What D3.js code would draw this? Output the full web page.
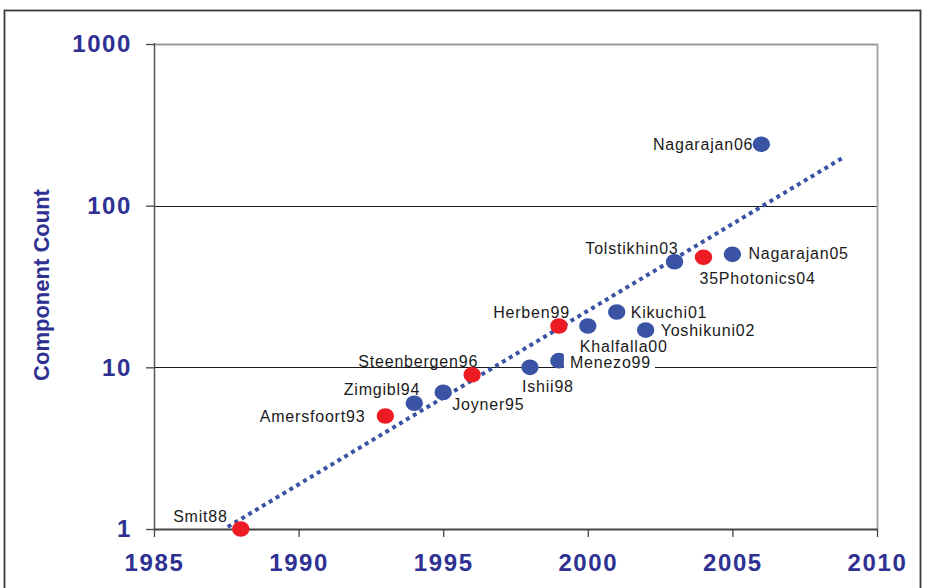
<!DOCTYPE html>
<html>
<head>
<meta charset="utf-8">
<script src="https://cdn.jsdelivr.net/npm/d3@7"></script>
<style>
  html, body { margin: 0; padding: 0; background: #fff; }
  svg { display: block; }
</style>
</head>
<body>
<svg id="chart" width="928" height="588"></svg>
<script>
// ---------------- DATA ----------------
const names  = ["Smit88","Amersfoort93","Zimgibl94","Joyner95","Steenbergen96","Ishii98","Menezo99","Herben99","Khalfalla00","Kikuchi01","Yoshikuni02","Tolstikhin03","35Photonics04","Nagarajan05","Nagarajan06"];
const years  = [1988, 1993, 1994, 1995, 1996, 1998, 1999, 1999, 2000, 2001, 2002, 2003, 2004, 2005, 2006];
const counts = [1, 5, 6, 7, 9, 10, 11, 18, 18, 22, 17, 45, 48, 50, 240];
const groups = ["red","red","blue","blue","red","blue","blue","red","blue","blue","blue","blue","red","blue","blue"];
const trendYears  = [1987.55, 2008.8];
const trendCounts = [1.03, 197];
const xTicks = [1985, 1990, 1995, 2000, 2005, 2010];
const yTicks = [1, 10, 100, 1000];
const yTitle = "Component Count";

// ---------------- LAYOUT / STYLE ----------------
const labelPlacement = {
  "Smit88":        {anchor: "end",   dx: -13, dy: -7},
  "Amersfoort93":  {anchor: "end",   dx: -20, dy: 6},
  "Zimgibl94":     {anchor: "end",   dx: 6,   dy: -8},
  "Joyner95":      {anchor: "start", dx: 9,   dy: 18},
  "Steenbergen96": {anchor: "end",   dx: 6,   dy: -8},
  "Ishii98":       {anchor: "start", dx: -8,  dy: 25},
  "Menezo99":      {anchor: "start", dx: 11,  dy: 7, bg: true},
  "Herben99":      {anchor: "end",   dx: 11,  dy: -8},
  "Khalfalla00":   {anchor: "start", dx: -8,  dy: 26},
  "Kikuchi01":     {anchor: "start", dx: 14,  dy: 6},
  "Yoshikuni02":   {anchor: "start", dx: 15,  dy: 6},
  "Tolstikhin03":  {anchor: "end",   dx: 4,   dy: -8},
  "35Photonics04": {anchor: "start", dx: -4,  dy: 27},
  "Nagarajan05":   {anchor: "start", dx: 16,  dy: 5},
  "Nagarajan06":   {anchor: "end",   dx: -8,  dy: 6}
};
const colors = {red: "#ED1C24", blue: "#3A53A4"};
const navy = "#2E3192";
const font = "'Liberation Sans', Arial, sans-serif";

const pLeft = 154, pRight = 877, pTop = 44, pBottom = 529;

const svg = d3.select("#chart");

// outer frame
svg.append("rect")
  .attr("x", 4.5).attr("y", 10.5).attr("width", 916).attr("height", 620)
  .attr("fill", "none").attr("stroke", "#3a3a3a").attr("stroke-width", 1.8);

const x = d3.scaleLinear().domain([1985, 2010]).range([pLeft, pRight]);
const y = d3.scaleLog().domain([1, 1000]).range([pBottom, pTop]);

// gridlines (10, 100)
svg.append("g").selectAll("line")
  .data([10, 100]).join("line")
  .attr("x1", pLeft).attr("x2", pRight)
  .attr("y1", d => Math.round(y(d)) + 0.5).attr("y2", d => Math.round(y(d)) + 0.5)
  .attr("stroke", "#1a1a1a").attr("stroke-width", 1);

// plot borders: top & right gray
svg.append("line").attr("x1", pLeft).attr("x2", pRight + 1).attr("y1", pTop + 0.5).attr("y2", pTop + 0.5)
  .attr("stroke", "#9a9a9a").attr("stroke-width", 2);
svg.append("line").attr("x1", pRight + 0.5).attr("x2", pRight + 0.5).attr("y1", pTop).attr("y2", pBottom)
  .attr("stroke", "#a8a8a8").attr("stroke-width", 2);

// y axis
const yAxis = d3.axisLeft(y).tickValues(yTicks).tickFormat(d3.format("d")).tickSize(8).tickPadding(14);
const gy = svg.append("g").attr("transform", `translate(${pLeft},0)`).call(yAxis);
gy.select(".domain").remove();
gy.selectAll(".tick line").attr("stroke", "#444").attr("stroke-width", 1.3);
gy.selectAll(".tick text")
  .attr("fill", navy).style("font-family", font).style("font-size", "24px")
  .style("font-weight", "bold").style("letter-spacing", "1.6px");
svg.append("line").attr("x1", pLeft + 0.5).attr("x2", pLeft + 0.5).attr("y1", pTop - 1).attr("y2", pBottom)
  .attr("stroke", "#555").attr("stroke-width", 1.5);

// x axis
const xAxis = d3.axisBottom(x).tickValues(xTicks).tickFormat(d3.format("d")).tickSize(8).tickPadding(17);
const gx = svg.append("g").attr("transform", `translate(0,${pBottom})`).call(xAxis);
gx.select(".domain").remove();
gx.selectAll(".tick line").attr("stroke", "#444").attr("stroke-width", 1.3);
gx.selectAll(".tick text")
  .attr("fill", navy).style("font-family", font).style("font-size", "24px")
  .style("font-weight", "bold").style("letter-spacing", "1.6px");
svg.append("line").attr("x1", pLeft).attr("x2", pRight + 1).attr("y1", pBottom + 0.5).attr("y2", pBottom + 0.5)
  .attr("stroke", "#444").attr("stroke-width", 2);

// y title
svg.append("text")
  .attr("transform", `translate(49,285) rotate(-90)`)
  .attr("text-anchor", "middle")
  .attr("fill", navy).style("font-family", font).style("font-size", "22px").style("font-weight", "bold")
  .text(yTitle);

// trend line
const trend = trendYears.map((t, i) => [t, trendCounts[i]]);
svg.append("path")
  .datum(trend)
  .attr("d", d3.line().x(d => x(d[0])).y(d => y(d[1])))
  .attr("fill", "none").attr("stroke", "#3A53A4").attr("stroke-width", 4)
  .attr("stroke-dasharray", "4 4");

// points
const pts = names.map((n, i) => ({name: n, year: years[i], count: counts[i], group: groups[i]}));
svg.append("g").selectAll("ellipse")
  .data(pts).join("ellipse")
  .attr("cx", d => x(d.year)).attr("cy", d => y(d.count))
  .attr("rx", 8.7).attr("ry", 7.8)
  .attr("fill", d => colors[d.group]);

// labels
const lg = svg.append("g");
pts.forEach(d => {
  const p = labelPlacement[d.name];
  const t = lg.append("text")
    .attr("x", x(d.year) + p.dx).attr("y", y(d.count) + p.dy)
    .attr("text-anchor", p.anchor)
    .attr("fill", "#1a1a1a").style("font-family", font).style("font-size", "16px")
    .style("letter-spacing", "0.8px")
    .text(d.name);
  if (p.bg) {
    const b = t.node().getBBox();
    lg.insert("rect", () => t.node())
      .attr("x", b.x - 6).attr("y", b.y - 1).attr("width", b.width + 10).attr("height", b.height + 3)
      .attr("fill", "#fff");
  }
});
</script>
</body>
</html>
